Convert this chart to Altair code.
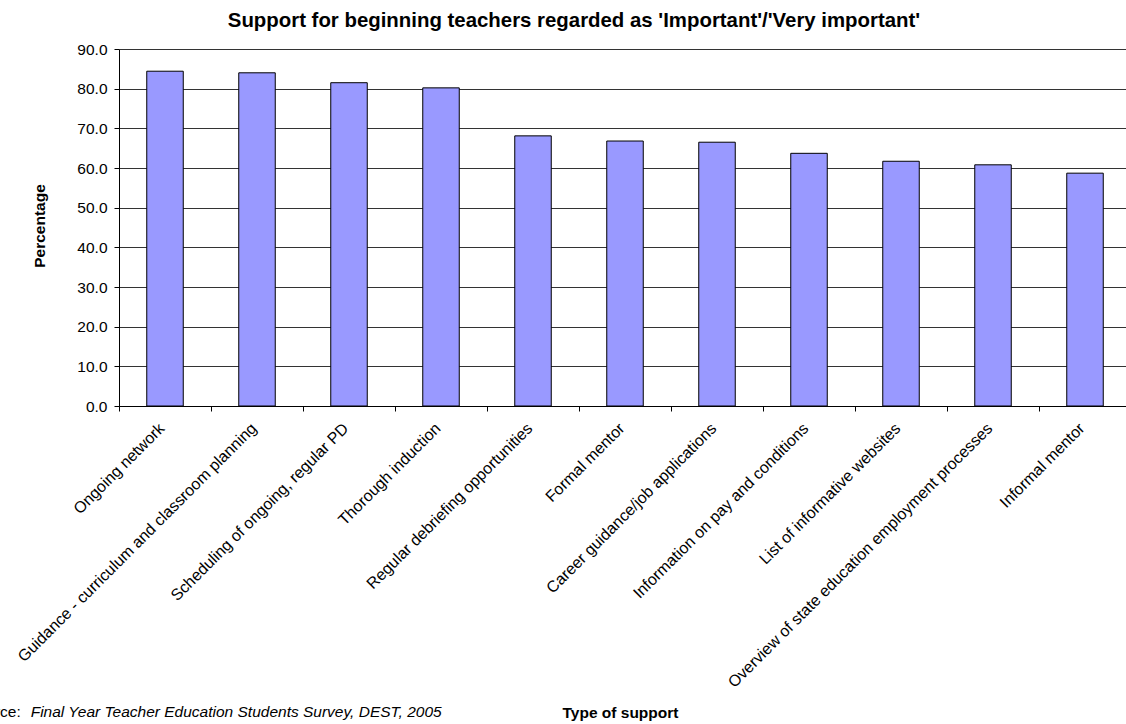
import altair as alt
import pandas as pd

# ---- data ----
categories = [
    "Ongoing network",
    "Guidance - curriculum and classroom planning",
    "Scheduling of ongoing, regular PD",
    "Thorough induction",
    "Regular debriefing opportunities",
    "Formal mentor",
    "Career guidance/job applications",
    "Information on pay and conditions",
    "List of informative websites",
    "Overview of state education employment processes",
    "Informal mentor",
]
values = [84.4, 84.0, 81.5, 80.2, 68.1, 66.8, 66.5, 63.7, 61.7, 60.8, 58.7]
y_ticks = [0, 10, 20, 30, 40, 50, 60, 70, 80, 90]

title_text = ["Support for beginning teachers regarded as 'Important'/'Very important'"]
y_title = "Percentage"
x_title = "Type of support"
source_label = ["Source:"]
source_text = ["Final Year Teacher Education Students Survey, DEST, 2005"]

FONT = "Liberation Sans"

df = pd.DataFrame({"support": categories, "pct": values})

bars = alt.Chart(df).mark_bar(
    size=36.5, color="#9999FF", stroke="#000000", strokeWidth=1
).encode(
    x=alt.X(
        "support:N",
        sort=None,
        scale=alt.Scale(paddingInner=0, paddingOuter=0),
        axis=alt.Axis(
            title=x_title,
            labelAngle=-45,
            labelAlign="right",
            labelBaseline="alphabetic",
            tickBand="extent",
            tickSize=5,
            labelPadding=18,
            labelFontSize=16,
            labelColor="#000000",
            labelOverlap=False,
            labelLimit=0,
            domainColor="#000000",
            tickColor="#000000",
            titleFontSize=15.5,
            titleFontWeight="bold",
            titleColor="#000000",
            titleX=501,
            titleY=306,
            titleAlign="center",
            titleBaseline="middle",
        ),
    ),
    y=alt.Y(
        "pct:Q",
        scale=alt.Scale(domain=[0, 90], nice=False),
        axis=alt.Axis(
            title=y_title,
            values=y_ticks,
            format=".1f",
            grid=True,
            gridColor="#333333",
            gridWidth=1,
            tickSize=5,
            labelPadding=7,
            labelFontSize=15.5,
            labelColor="#000000",
            domainColor="#000000",
            tickColor="#000000",
            titleFontSize=15.5,
            titleFontWeight="bold",
            titleColor="#000000",
            titleX=-80,
            titleY=176.5,
            titleAngle=270,
            titleAlign="center",
            titleBaseline="middle",
        ),
    ),
)

title_layer = alt.Chart(pd.DataFrame({"t": title_text})).mark_text(
    fontSize=20.4, fontWeight="bold", color="#000000", align="center", baseline="alphabetic"
).encode(text="t:N", x=alt.value(455), y=alt.value(-22))

source_label_layer = alt.Chart(pd.DataFrame({"t": source_label})).mark_text(
    fontSize=15.5, color="#000000", align="left", baseline="middle"
).encode(text="t:N", x=alt.value(-151.7), y=alt.value(663))

source_text_layer = alt.Chart(pd.DataFrame({"t": source_text})).mark_text(
    fontSize=15.5, fontStyle="italic", color="#000000", align="left", baseline="middle"
).encode(text="t:N", x=alt.value(-88.3), y=alt.value(663))

chart = alt.layer(bars, title_layer, source_label_layer, source_text_layer).properties(
    width=1012,
    height=357,
    autosize=alt.AutoSizeParams(type="none"),
    padding={"left": 119, "top": 49, "right": -5, "bottom": 318},
).configure(font=FONT).configure_view(stroke=None)

chart.save("out.html", embed_options={"renderer": "svg", "actions": False})
